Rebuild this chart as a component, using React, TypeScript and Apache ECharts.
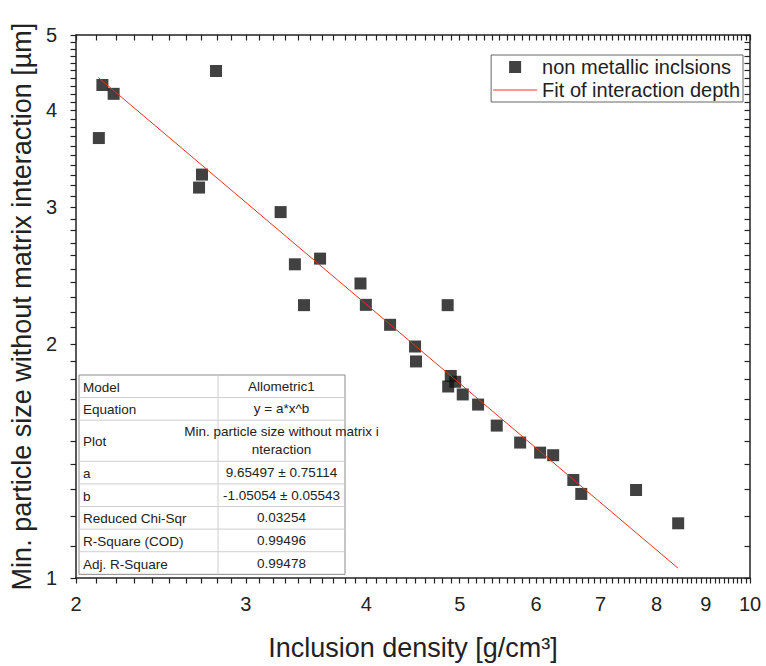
import React, { useEffect, useRef } from "react";
import * as echarts from "echarts";

// ---- data ----
const scatterName = "non metallic inclsions";
const fitName = "Fit of interaction depth";
const densityX = [2.112, 2.13, 2.188, 2.794, 2.683, 2.702, 3.26, 3.373, 3.582, 3.447, 3.945, 3.996, 4.234, 4.494, 4.504, 4.858, 4.894, 4.946, 4.864, 5.036, 5.224, 5.462, 5.776, 6.058, 6.25, 6.558, 6.684, 7.618, 8.424];
const particleY = [3.684, 4.311, 4.2, 4.494, 3.181, 3.306, 2.958, 2.534, 2.577, 2.245, 2.394, 2.247, 2.118, 1.986, 1.9, 2.245, 1.82, 1.789, 1.764, 1.723, 1.672, 1.571, 1.494, 1.45, 1.439, 1.337, 1.283, 1.298, 1.176];
const fitA = 9.65497;
const fitB = -1.05054;
const fitRangeX = [2.11, 8.42];
const xTickLabels = [2, 3, 4, 5, 6, 7, 8, 9, 10];
const yTickLabels = [1, 2, 3, 4, 5];
const xTitle = "Inclusion density [g/cm³]";
const yTitle = "Min. particle size without matrix interaction [µm]";
const tableLabels = ["Model", "Equation", "Plot", "a", "b", "Reduced Chi-Sqr", "R-Square (COD)", "Adj. R-Square"];
const tableValues = [
  "Allometric1",
  "y = a*x^b",
  "Min. particle size without matrix i\nnteraction",
  "9.65497 ± 0.75114",
  "-1.05054 ± 0.05543",
  "0.03254",
  "0.99496",
  "0.99478",
];

// ---- style ----
const font = "'Liberation Sans', Arial, sans-serif";
const ink = "#222";
const fitColor = "#e8301f";

// major ticks plus nine minor ticks in every interval
function allTicks(majors: number[]) {
  const out: number[] = [];
  for (let i = 0; i < majors.length - 1; i++) {
    const a = majors[i];
    const b = majors[i + 1];
    for (let j = 0; j < 10; j++) out.push(Math.round((a + ((b - a) * j) / 10) * 1000) / 1000);
  }
  out.push(majors[majors.length - 1]);
  return out;
}

const xTicks = allTicks(xTickLabels);
const yTicks = allTicks(yTickLabels);
const xMin = xTickLabels[0];
const xMax = xTickLabels[xTickLabels.length - 1];
const yMin = yTickLabels[0];
const yMax = yTickLabels[yTickLabels.length - 1];

function axis(min: number, max: number, position: string, ticks: number[], labelValues: number[] | null, inside: boolean, extra: any = {}) {
  return {
    type: "log",
    min,
    max,
    position,
    splitLine: { show: false },
    axisLine: { show: true, onZero: false, lineStyle: { color: ink, width: 1.5 } },
    axisTick: { show: true, customValues: ticks, length: 5.5, inside, lineStyle: { color: ink, width: 1.2 } },
    axisLabel: labelValues
      ? { show: true, customValues: labelValues, fontSize: 20, color: ink, fontFamily: font, margin: position === "bottom" ? 16 : 19 }
      : { show: false },
    ...extra,
  };
}

function buildTable() {
  const x0 = 79;
  const y0 = 375;
  const w = 266;
  const labelW = 139;
  const rowH = 22.6;
  const heights = tableValues.map((v) => (v.includes("\n") ? rowH * 1.82 : rowH));
  const total = heights.reduce((s, h) => s + h, 0);
  const children: any[] = [
    { type: "rect", shape: { x: x0, y: y0, width: w, height: total }, style: { fill: "#fff", stroke: "#8a8a8a", lineWidth: 1 } },
    { type: "line", shape: { x1: x0 + labelW, y1: y0, x2: x0 + labelW, y2: y0 + total }, style: { stroke: "#cfcfcf", lineWidth: 1 } },
  ];
  let y = y0;
  tableLabels.forEach((lab, i) => {
    const h = heights[i];
    if (i > 0) children.push({ type: "line", shape: { x1: x0, y1: y, x2: x0 + w, y2: y }, style: { stroke: "#cfcfcf", lineWidth: 1 } });
    children.push({
      type: "text",
      x: x0 + 4,
      y: y + h / 2 + 1,
      style: { text: lab, fill: ink, fontSize: 13.5, fontFamily: font, align: "left", verticalAlign: "middle" },
    });
    children.push({
      type: "text",
      x: x0 + labelW + (w - labelW) / 2,
      y: y + h / 2,
      style: { text: tableValues[i], fill: ink, fontSize: 13.5, fontFamily: font, align: "center", verticalAlign: "middle", lineHeight: 18 },
    });
    y += h;
  });
  return { type: "group", silent: true, z: 100, children };
}

export default function App() {
  const ref = useRef<HTMLDivElement>(null);
  useEffect(() => {
    document.body.style.margin = "0";
    const chart = echarts.init(ref.current!, null, { renderer: "svg" });
    const option: any = {
      animation: false,
      backgroundColor: "#fff",
      grid: { left: 76, right: 16, top: 35, bottom: 86 },
      xAxis: [
        axis(xMin, xMax, "bottom", xTicks, xTickLabels, false, {
          name: xTitle,
          nameLocation: "middle",
          nameGap: 56,
          nameTextStyle: { fontSize: 27, color: ink, fontFamily: font },
        }),
        axis(xMin, xMax, "top", xTicks, null, true),
      ],
      yAxis: [
        axis(yMin, yMax, "left", yTicks, yTickLabels, false, {
          name: yTitle,
          nameLocation: "middle",
          nameGap: 32,
          nameTextStyle: { fontSize: 27, color: ink, fontFamily: font },
        }),
        axis(yMin, yMax, "right", yTicks, null, true),
      ],
      legend: {
        orient: "vertical",
        right: 23,
        top: 55,
        backgroundColor: "#fff",
        borderColor: "#666",
        borderWidth: 1,
        borderRadius: 0,
        padding: [2, 3, 2, 2],
        itemWidth: 44,
        itemHeight: 12,
        itemGap: 3,
        textStyle: { fontSize: 20, color: ink, fontFamily: font },
        data: [
          { name: scatterName, icon: "path://M0,0h10v10h-10z", itemStyle: { color: "#111" } },
          { name: fitName, icon: "path://M0,0h44v1.6h-44z", itemStyle: { color: "#f07a66" } },
        ],
      },
      series: [
        {
          type: "scatter",
          name: scatterName,
          symbol: "rect",
          symbolSize: 12,
          itemStyle: { color: "#111" },
          data: densityX.map((x, i) => [x, particleY[i]]),
          z: 3,
        },
        {
          type: "line",
          name: fitName,
          symbol: "none",
          lineStyle: { color: fitColor, width: 1 },
          itemStyle: { color: fitColor },
          data: fitRangeX.map((x) => [x, fitA * Math.pow(x, fitB)]),
          z: 4,
        },
      ],
      graphic: [buildTable()],
    };
    chart.setOption(option);
    return () => chart.dispose();
  }, []);
  return <div ref={ref} style={{ width: 766, height: 666 }} />;
}
